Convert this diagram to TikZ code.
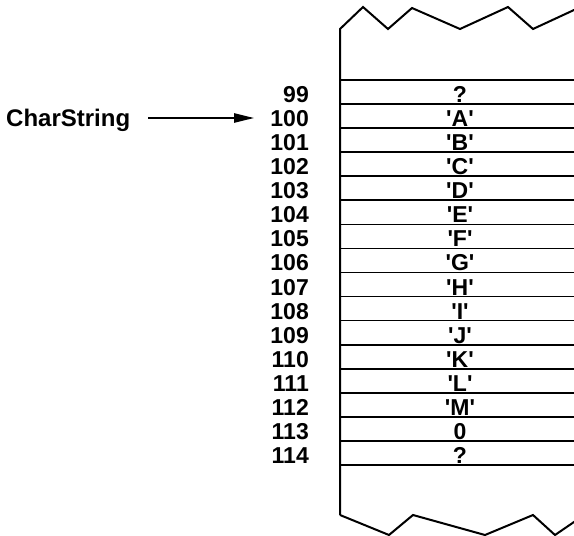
\documentclass[tikz,border=0pt]{standalone}
\usepackage{fontspec}
\setmainfont{Liberation Sans}
\usetikzlibrary{arrows.meta}
% a character in single quotes, with straight quote marks
\newcommand\qc[1]{\textquotesingle#1\textquotesingle}
\begin{document}
\begin{tikzpicture}[x=1pt,y=-1pt,
  lbl/.style={font=\bfseries\fontsize{23}{23}\selectfont, inner sep=0pt},
  rule/.style={line width=1.7pt},
  edge/.style={line width=2pt, line join=miter},
  ptr/.style={line width=2.2pt, -{Triangle[length=20pt,width=9pt]}}]
\useasboundingbox (0,0) rectangle (574,536);

% memory block: broken top and bottom edges, left wall, cell rules
\begin{scope}
  \clip (0,0) rectangle (574,536);
  \draw[edge] (340,515) -- (340,29) -- (363,7) -- (388,29) -- (412,8)
    -- (460,29) -- (508,7) -- (533,29) -- (574,10) -- (584,5);
  \draw[edge] (340,515) -- (389,535) -- (413,515) -- (485,535)
    -- (533,515) -- (555,535) -- (574,522) -- (584,515);
  \foreach \i in {0,...,16}
    \draw[rule] (340,{80+24.06*\i}) -- (580,{80+24.06*\i});
\end{scope}

% addresses and cell contents
\foreach [count=\k from 1] \n/\t in {99/?, 100/\qc{A}, 101/\qc{B}, 102/\qc{C},
    103/\qc{D}, 104/\qc{E}, 105/\qc{F}, 106/\qc{G}, 107/\qc{H}, 108/\qc{I},
    109/\qc{J}, 110/\qc{K}, 111/\qc{L}, 112/\qc{M}, 113/0, 114/?} {
  \node[lbl, anchor=base east] (n\n) at (309,{80+24.06*\k-1.5}) {\n};
  \node[lbl, anchor=base] (c\n) at (460,{80+24.06*\k-1.5}) {\t};
}

% pointer variable
\node[lbl, font=\bfseries\fontsize{24}{24}\selectfont, anchor=base west]
  (cs) at (6,126) {CharString};
\coordinate (tail) at ([xshift=18pt,yshift=8pt]cs.base east);
\draw[ptr, shorten >=16pt] (tail) -- (tail -| n100.west);
\end{tikzpicture}
\end{document}
